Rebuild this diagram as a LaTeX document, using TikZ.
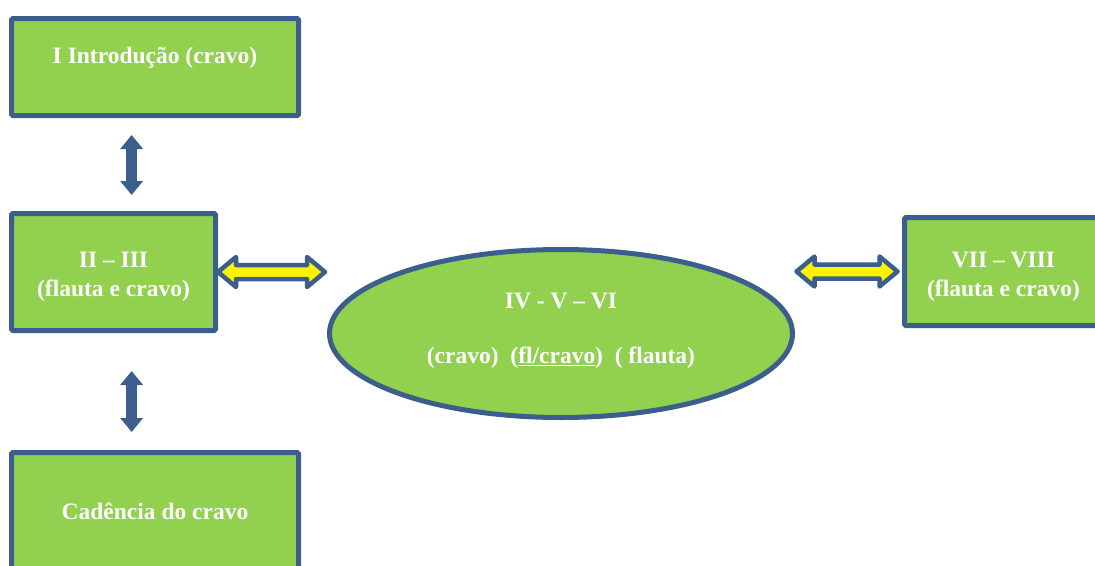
\documentclass[tikz,border=0pt]{standalone}
\usepackage{fontspec}
\setmainfont{Liberation Serif}
\usetikzlibrary{calc,arrows.meta,shadows,shapes.geometric}
\definecolor{leaf}{HTML}{92D050}
\definecolor{navy}{HTML}{3B5E8C}
\tikzset{
  box/.style={draw=navy, fill=leaf, line width=5pt, rounded corners=1.5pt, inner sep=0pt},
  oval/.style={ellipse, draw=navy, fill=leaf, line width=5pt, inner sep=0pt},
  txt/.style={text=white, align=center, font=\bfseries\fontsize{23.5}{29}\selectfont},
  vlink/.style={navy, line width=11pt,
    {Triangle[width=22pt,length=14pt]}-{Triangle[width=22pt,length=14pt]}},
  hlink/.style={draw=navy, fill=yellow, line width=4.5pt, line join=round}
}
% horizontal double-headed arrow with outline, between two points on one level
\newcommand\outlinedarrow[2]{%
  \draw[hlink] let \p1=(#1), \p2=(#2) in
    (\x1,\y1) -- (\x1+18pt,\y1+15pt) -- (\x1+18pt,\y1+7pt)
    -- (\x2-18pt,\y1+7pt) -- (\x2-18pt,\y1+15pt) -- (\x2,\y1)
    -- (\x2-18pt,\y1-15pt) -- (\x2-18pt,\y1-7pt)
    -- (\x1+18pt,\y1-7pt) -- (\x1+18pt,\y1-15pt) -- cycle;}
\begin{document}
\begin{tikzpicture}[x=1pt, y=-1pt]
  \useasboundingbox (0,0) rectangle (1095,565);

  % boxes
  \node[box, minimum width=287pt, minimum height=97pt,
        drop shadow={shadow xshift=2pt, shadow yshift=-2pt, opacity=0.3, fill=black}]
        (b1) at (155,67) {};
  \node[txt] (t1) at ([yshift=9pt]b1.center) {I Introdução (cravo)};

  \node[box, minimum width=204pt, minimum height=117pt] (b2) at (113.5,272) {};
  \node[txt] (t2) at ([yshift=-5pt]b2.center) {II – III\\(flauta e cravo)};

  \node[box, minimum width=287pt, minimum height=120pt] (b3) at (155,512.5) {};
  \node[txt] (t3) at ([yshift=1pt]b3.center) {Cadência do cravo};

  \node[box, minimum width=200pt, minimum height=108pt] (b4) at (1004.5,271.5) {};
  \node[txt] (t4) at ([xshift=-1pt, yshift=-5pt]b4.center) {VII – VIII\\(flauta e cravo)};

  \node[oval, minimum width=463pt, minimum height=168pt] (ell) at (561,333.5) {};
  \node[txt] (t5) at ([yshift=3pt]ell.center)
        {IV - V – VI\\[26pt](cravo)\ \ (\underline{fl/cravo})\ \ ( flauta)};

  % vertical links
  \coordinate (v1) at ($(b1.south west)!0.42!(b1.south east)$);
  \draw[vlink, shorten <=17pt, shorten >=16pt] (v1) -- (v1 |- b2.north);
  \draw[vlink, shorten <=38pt, shorten >=18pt] (v1 |- b2.south) -- (v1 |- b3.north);

  % horizontal links
  \outlinedarrow{b2.east}{$(b2.east -| ell.west)+(-2,0)$}
  \outlinedarrow{$(ell.east |- b4.west)+(1.5,0)$}{$(b4.west)+(-4.5,0)$}
\end{tikzpicture}
\end{document}
